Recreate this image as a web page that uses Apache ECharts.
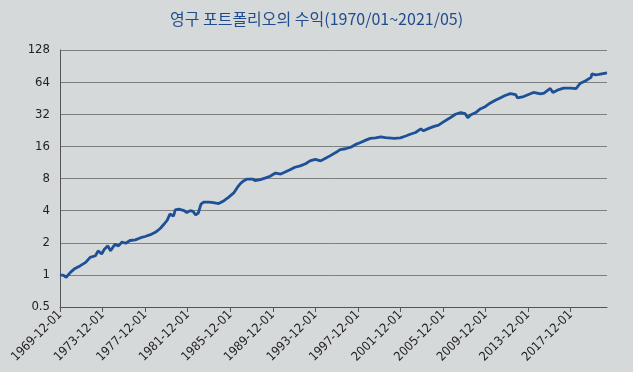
<!DOCTYPE html>
<html><head><meta charset="utf-8">
<script src="https://cdn.jsdelivr.net/npm/echarts@6/dist/echarts.min.js"></script>
<style>html,body{margin:0;padding:0;background:#d6d9da;}#c{width:633px;height:372px;}</style>
</head><body><div id="c"></div>
<script>
const titleText = '영구 포트폴리오의 수익(1970/01~2021/05)';
const yTicks = [0.5, 1, 2, 4, 8, 16, 32, 64, 128];
const dates = ['1969-12','1970-04','1970-07','1970-12','1971-05','1971-11','1972-05','1972-10','1973-04','1973-07','1973-11','1974-02','1974-06','1974-09','1975-02','1975-06','1975-10','1976-02','1976-07','1977-01','1977-07','1977-12','1978-06','1978-12','1979-05','1979-10','1980-01','1980-04','1980-06','1980-08','1980-10','1981-02','1981-08','1981-11','1982-03','1982-06','1982-09','1982-12','1983-03','1983-06','1983-12','1984-05','1984-11','1985-05','1985-10','1986-04','1986-08','1986-11','1987-03','1987-07','1988-01','1988-04','1988-10','1989-04','1989-09','1990-03','1990-09','1991-02','1991-08','1992-01','1992-07','1993-01','1993-06','1993-12','1994-06','1994-11','1995-05','1995-11','1996-04','1996-10','1997-04','1997-09','1998-03','1998-09','1999-02','1999-08','2000-02','2000-07','2001-05','2001-12','2002-06','2002-11','2003-05','2003-11','2004-02','2004-08','2005-02','2005-07','2006-01','2006-09','2007-02','2007-08','2008-01','2008-04','2008-07','2009-01','2009-06','2009-12','2010-05','2010-11','2011-05','2011-10','2012-04','2012-10','2012-12','2013-07','2014-06','2015-02','2015-06','2016-01','2016-04','2016-09','2017-04','2017-12','2018-06','2018-11','2019-05','2019-11','2019-12','2020-04','2020-08','2021-05'];
const values = [1.00,0.99,0.95,1.06,1.15,1.22,1.31,1.46,1.51,1.68,1.57,1.74,1.87,1.68,1.94,1.87,2.03,1.98,2.10,2.13,2.23,2.29,2.38,2.52,2.72,3.03,3.26,3.72,3.78,3.56,4.07,4.13,4.00,3.83,4.00,3.94,3.65,3.80,4.60,4.80,4.80,4.75,4.66,4.96,5.33,5.86,6.6,7.1,7.6,7.9,7.9,7.65,7.8,8.1,8.4,9.0,8.8,9.2,9.7,10.2,10.5,11.0,11.7,12.1,11.7,12.3,13.1,14.0,14.9,15.2,15.7,16.6,17.4,18.3,19.0,19.2,19.6,19.3,19.0,19.2,20.0,20.8,21.6,23.3,22.4,23.6,24.6,25.3,27.3,30.0,32.0,33.2,32.4,29.6,31.5,33.2,35.9,37.9,40.6,43.2,45.7,47.9,49.9,48.9,45.6,46.9,51.2,49.7,50.6,55.8,51.2,53.8,56.3,56.3,55.7,62.6,66,71,76.4,74.8,75.5,78];

function monthIndex(s){ const [y,m] = s.split('-').map(Number); return (y-1969)*12 + (m-12); }
function monthLabel(i){ const t = 1969*12 + 11 + i; const y = Math.floor(t/12); const m = t%12 + 1; return y + '-' + String(m).padStart(2,'0') + '-01'; }
const lastIdx = monthIndex(dates[dates.length-1]);
const seriesData = dates.map((d,i)=>[monthIndex(d), values[i]]);
const labelFont = '"DejaVu Sans Condensed", "Liberation Sans", sans-serif';

const chart = echarts.init(document.getElementById('c'));
chart.setOption({
  backgroundColor: '#d6d9da',
  animation: false,
  title: { text: titleText, left: 'center', top: 6,
    textStyle: { color: '#1f4c8c', fontSize: 16, fontWeight: 'normal', fontFamily: 'Noto Sans CJK KR' } },
  grid: { left: 60, right: 26, top: 50, bottom: 65, containLabel: false },
  xAxis: { type: 'value', min: 0, max: lastIdx, interval: 48,
    axisLine: { show: true, lineStyle: { color: '#555', width: 1 } },
    axisTick: { show: true, length: 5, lineStyle: { color: '#555' } },
    splitLine: { show: false },
    axisLabel: { rotate: 45, showMaxLabel: false, color: '#222', fontSize: 12.5, fontFamily: labelFont, margin: 6,
      formatter: v => monthLabel(v) } },
  yAxis: { type: 'log', logBase: 2, min: yTicks[0], max: yTicks[yTicks.length-1], splitNumber: 8,
    axisLine: { show: true, lineStyle: { color: '#555', width: 1 } },
    axisTick: { show: false },
    splitLine: { show: true, lineStyle: { color: '#7d7f80', width: 1 } },
    axisLabel: { color: '#222', fontSize: 13, fontFamily: labelFont, margin: 10,
      formatter: v => String(+v.toPrecision(6)) } },
  series: [{ type: 'line', data: seriesData, showSymbol: false, smooth: false,
    lineStyle: { color: '#1d5096', width: 2.8 } }]
});
</script></body></html>
